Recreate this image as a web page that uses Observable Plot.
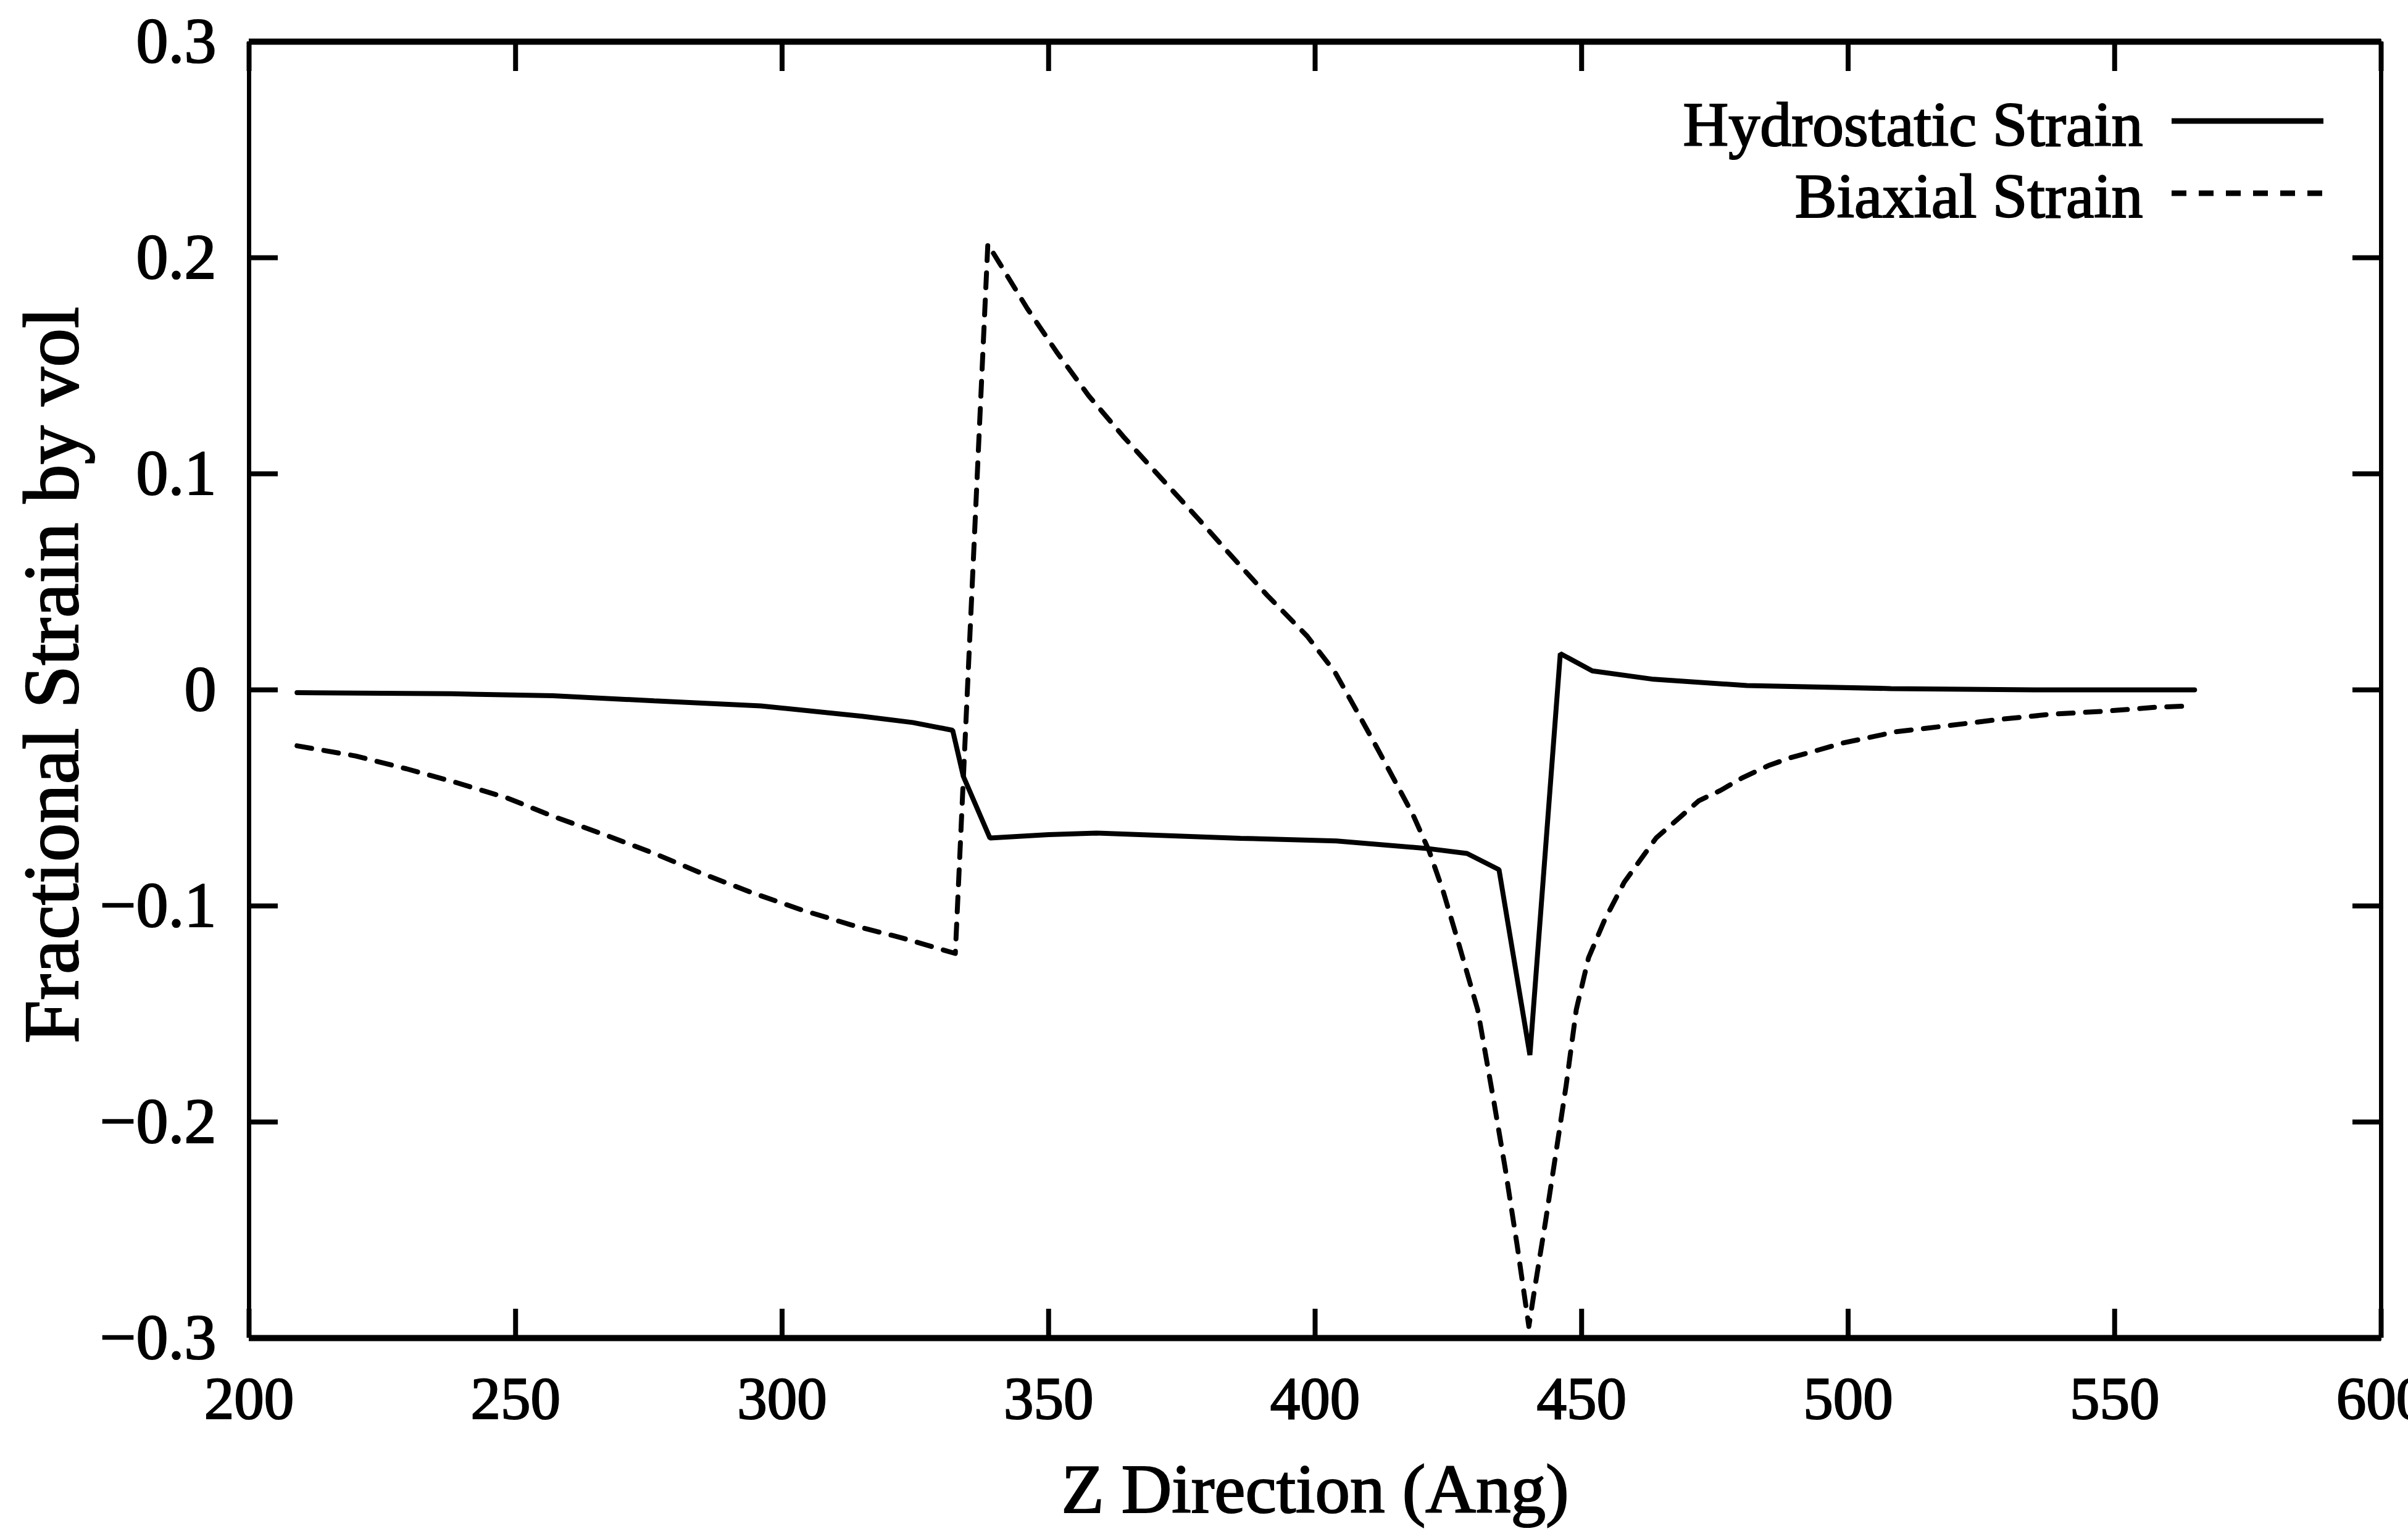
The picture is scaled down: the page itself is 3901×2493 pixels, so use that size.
<!DOCTYPE html>
<html>
<head>
<meta charset="utf-8">
<script src="https://cdn.jsdelivr.net/npm/d3@7"></script>
<script src="https://cdn.jsdelivr.net/npm/@observablehq/plot@0.6"></script>
<style>
  html, body { margin: 0; padding: 0; background: white; overflow: hidden; }
  #chart svg { display: block; }
</style>
</head>
<body>
<div id="chart"></div>
<script>
// ---- data ----
const xTicks = [200, 250, 300, 350, 400, 450, 500, 550, 600];
const yTicks = [-0.3, -0.2, -0.1, 0, 0.1, 0.2, 0.3];
const yTickLabels = ["\u22120.3", "\u22120.2", "\u22120.1", "0", "0.1", "0.2", "0.3"];
const seriesNames = ["Hydrostatic Strain", "Biaxial Strain"];

const hydroZ = [209, 238, 257, 276, 296, 315, 324.5, 332, 334, 339, 350, 359, 386, 404, 421, 428.5, 434.5, 440.3, 446, 452, 463.5, 481, 508, 535, 565];
const hydroStrain = [-0.0013, -0.0018, -0.0027, -0.0051, -0.0074, -0.0122, -0.0151, -0.0187, -0.040, -0.0686, -0.067, -0.0663, -0.0687, -0.0699, -0.0734, -0.0757, -0.0832, -0.169, 0.0168, 0.0088, 0.0049, 0.002, 0.0006, 0.0, 0.0];

const biaxZ = [209, 220, 229.5, 239, 248.5, 257, 267, 276.5, 285, 294.5, 303.5, 313, 322.5, 332.5, 338.6, 346, 351.5, 357.5, 364, 371, 378, 384, 391, 398.5, 403.7, 408, 411.7, 415.3, 418.4, 421.4, 424, 427, 430.5, 433.5, 435.7, 437.9, 440.1, 441.2, 443.2, 445.1, 447.1, 449, 451.3, 454.3, 458, 464, 472, 476, 480, 485, 489.3, 494.2, 499, 509, 518.6, 528.3, 538, 548, 558, 564.5];
const biaxStrain = [-0.0259, -0.0306, -0.0365, -0.043, -0.0501, -0.0585, -0.0673, -0.0762, -0.085, -0.094, -0.1017, -0.1088, -0.1148, -0.122, 0.2063, 0.1765, 0.1564, 0.1362, 0.1173, 0.0983, 0.0794, 0.0628, 0.0438, 0.0249, 0.0083, -0.0106, -0.0272, -0.0437, -0.058, -0.0746, -0.093, -0.118, -0.148, -0.19, -0.222, -0.257, -0.2946, -0.277, -0.2465, -0.2157, -0.183, -0.148, -0.124, -0.1066, -0.089, -0.0685, -0.0513, -0.0466, -0.0409, -0.0351, -0.0313, -0.028, -0.0246, -0.0194, -0.0166, -0.0137, -0.0113, -0.0099, -0.008, -0.0074];

const xLabel = "Z Direction (Ang)";
const yLabel = "Fractional Strain by vol";

// ---- tables built from the arrays ----
const hydro = hydroZ.map((z, i) => ({z, s: hydroStrain[i]}));
const biax = biaxZ.map((z, i) => ({z, s: biaxStrain[i]}));
const xDomain = [xTicks[0], xTicks[xTicks.length - 1]];
const yDomain = [yTicks[0], yTicks[yTicks.length - 1]];

const FONT = "'Liberation Serif', 'Times New Roman', serif";

const chart = Plot.plot({
  width: 3901,
  height: 2493,
  marginLeft: 403,
  marginRight: 44,
  marginTop: 67,
  marginBottom: 326,
  style: {fontFamily: FONT, fontSize: "96px", background: "white", color: "black", overflow: "visible"},
  x: {domain: xDomain},
  y: {domain: yDomain},
  marks: [
    Plot.axisX(xTicks, {anchor: "bottom", tickSize: -47, tickPadding: 109, strokeWidth: 8, label: null, tickFormat: d => String(d), fontSize: 97}),
    Plot.axisX(xTicks, {anchor: "top", tickSize: -47, tickPadding: 0, strokeWidth: 8, label: null, tickFormat: () => ""}),
    Plot.axisY(yTicks, {anchor: "left", tickSize: -47, tickPadding: 100, strokeWidth: 8, label: null, tickFormat: d => yTickLabels[yTicks.indexOf(d)], fontSize: 104}),
    Plot.axisY(yTicks, {anchor: "right", tickSize: -47, tickPadding: 0, strokeWidth: 8, label: null, tickFormat: () => ""}),
    Plot.ruleX(xDomain, {strokeWidth: 7}),
    Plot.ruleY(yDomain, {strokeWidth: 10}),
    Plot.line(hydro, {x: "z", y: "s", stroke: "black", strokeWidth: 8, strokeLinejoin: "miter"}),
    Plot.line(biax, {x: "z", y: "s", stroke: "black", strokeWidth: 8, strokeDasharray: "24,20"}),
    Plot.text([xLabel], {frameAnchor: "bottom", textAnchor: "middle", dy: 246, fontSize: 113, lineAnchor: "middle"}),
    Plot.text([yLabel], {frameAnchor: "left", textAnchor: "middle", rotate: -90, dx: -318, dy: -24, fontSize: 126, lineAnchor: "middle"}),
    Plot.text([seriesNames[0]], {frameAnchor: "top-right", textAnchor: "end", dx: -386, dy: 136, fontSize: 102, lineAnchor: "middle"}),
    Plot.text([seriesNames[1]], {frameAnchor: "top-right", textAnchor: "end", dx: -386, dy: 252, fontSize: 102, lineAnchor: "middle"})
  ]
});

document.getElementById("chart").appendChild(chart);

const svg = d3.select(chart);
// heavier, scanned-print look for all text
svg.selectAll("text").attr("stroke", "black").attr("stroke-width", 2.2).attr("paint-order", "fill");

// legend line samples (layout only)
const lg = svg.append("g").attr("class", "legend-samples");
lg.append("line").attr("x1", 3518).attr("x2", 3764).attr("y1", 196).attr("y2", 196)
  .attr("stroke", "black").attr("stroke-width", 9);
lg.append("line").attr("x1", 3518).attr("x2", 3762).attr("y1", 313).attr("y2", 313)
  .attr("stroke", "black").attr("stroke-width", 9).attr("stroke-dasharray", "24,20");
</script>
</body>
</html>
